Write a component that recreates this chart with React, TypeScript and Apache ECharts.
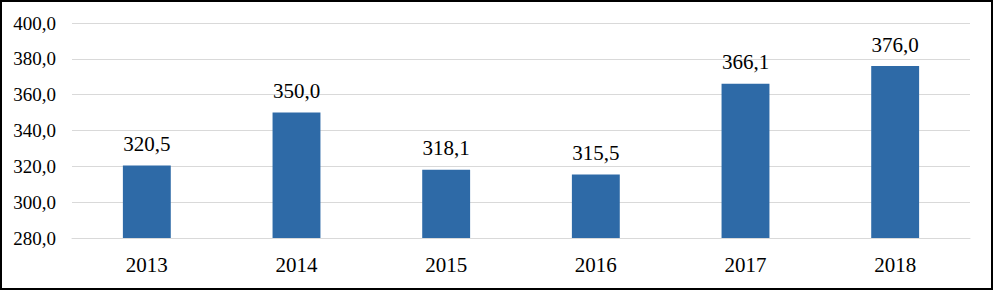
import React, { useEffect, useRef } from "react";
import * as echarts from "echarts";

const categories = ["2013", "2014", "2015", "2016", "2017", "2018"];
const values = [320.5, 350.0, 318.1, 315.5, 366.1, 376.0];
const yMin = 280;
const yMax = 400;
const yStep = 20;

const fmt = (v: number) => v.toFixed(1).replace(".", ",");

export default function App() {
  const ref = useRef<HTMLDivElement>(null);
  useEffect(() => {
    document.body.style.margin = "0";
    const chart = echarts.init(ref.current!, undefined, { renderer: "svg" });
    const font = "Liberation Serif";
    chart.setOption({
      animation: false,
      graphic: [
        {
          type: "rect",
          shape: { x: 1, y: 1, width: 991, height: 288 },
          style: { fill: "none", stroke: "#000", lineWidth: 2 },
          silent: true,
        },
      ],
      grid: { left: 72, right: 25, top: 23, bottom: 53 },
      xAxis: {
        type: "category",
        data: categories,
        axisLine: { show: true, lineStyle: { color: "#d9d9d9", width: 1 } },
        axisTick: { show: false },
        axisLabel: { color: "#000", fontSize: 21, fontFamily: font, margin: 16 },
      },
      yAxis: {
        type: "value",
        min: yMin,
        max: yMax,
        interval: yStep,
        axisLine: { show: false },
        axisTick: { show: false },
        splitLine: { lineStyle: { color: "#d9d9d9", width: 1 } },
        axisLabel: {
          color: "#000",
          fontSize: 19,
          fontFamily: font,
          margin: 16,
          formatter: (v: number) => fmt(v),
        },
      },
      series: [
        {
          type: "bar",
          data: values,
          barWidth: "32%",
          itemStyle: { color: "#2E6AA7" },
          label: {
            show: true,
            position: "top",
            distance: 11,
            color: "#000",
            fontSize: 21,
            fontFamily: font,
            formatter: (p: any) => fmt(p.value),
          },
        },
      ],
    });
    return () => chart.dispose();
  }, []);
  return <div ref={ref} style={{ width: 995, height: 291 }} />;
}
